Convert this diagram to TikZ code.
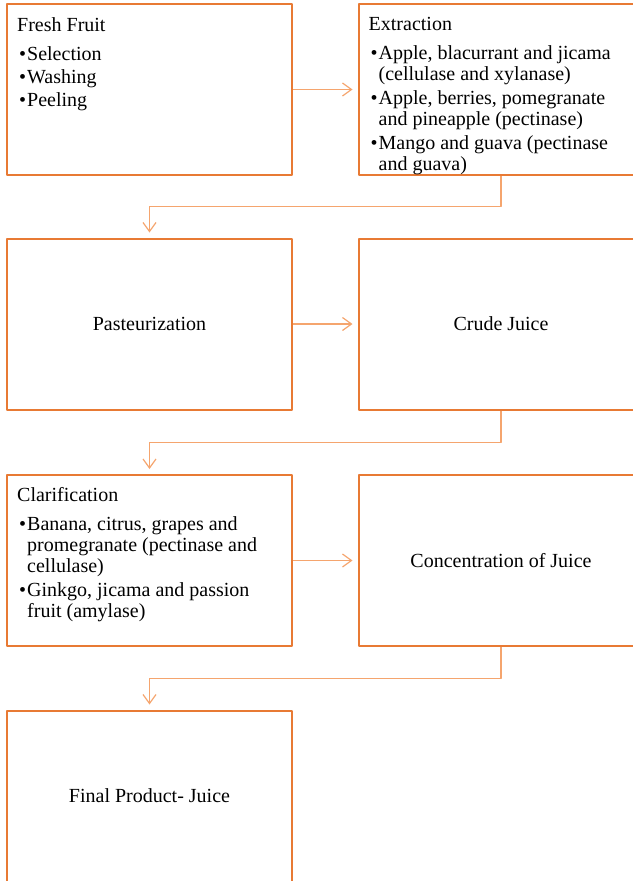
\documentclass[tikz,border=0pt]{standalone}
\usepackage{fontspec}
\setmainfont{Liberation Serif}
\usepackage{tikz}
\usetikzlibrary{arrows.meta,calc}
\definecolor{boxorange}{RGB}{232,122,52}
\definecolor{linkorange}{RGB}{245,165,110}
\newcommand{\bul}{\hspace*{2pt}\makebox[8pt][l]{\textbullet}}
\newcommand{\bind}{\hspace*{10pt}}

\begin{document}
\begin{tikzpicture}[x=1pt,y=-1pt,>={Straight Barb[length=9pt,width=13pt]},line join=round,
  stage/.style={draw=boxorange,line width=2pt,minimum width=285pt,minimum height=171pt,
    inner sep=0pt,font=\fontsize{20}{22}\selectfont},
  list/.style={anchor=north west,align=left,inner sep=0pt,font=\fontsize{20}{21}\selectfont},
  link/.style={draw=linkorange,line width=1.2pt,->,shorten >=5pt}]
  \useasboundingbox (0,0) rectangle (632,881);
  % boxes
  \node[stage] (fresh) at (149.5,89.5) {};
  \node[stage] (extr)  at (501,89.5) {};
  \node[stage] (past)  at (149.5,324) {Pasteurization};
  \node[stage] (crude) at (501,324) {Crude Juice};
  \node[stage] (clar)  at (149.5,560.5) {};
  \node[stage] (conc)  at (501,560.5) {Concentration of Juice};
  \node[stage] (final) at (149.5,796) {Final Product- Juice};
  % box texts
  \node[list] (freshtxt) at ($(fresh.north west)+(11,14)$) {Fresh Fruit\\[8pt]
    \bul Selection\\[2pt]
    \bul Washing\\[2pt]
    \bul Peeling};
  \node[list] (extrtxt) at ($(extr.north west)+(11,14)$) {Extraction\\[8pt]
    \bul Apple, blacurrant and jicama\\
    \bind(cellulase and xylanase)\\[3pt]
    \bul Apple, berries, pomegranate\\
    \bind and pineapple (pectinase)\\[3pt]
    \bul Mango and guava (pectinase\\
    \bind and guava)};
  \node[list] (clartxt) at ($(clar.north west)+(11,13)$) {Clarification\\[8pt]
    \bul Banana, citrus, grapes and\\
    \bind promegranate (pectinase and\\
    \bind cellulase)\\[3pt]
    \bul Ginkgo, jicama and passion\\
    \bind fruit (amylase)};
  % links
  \draw[link] (fresh) -- (extr);
  \draw[link] (past) -- (crude);
  \draw[link] (clar) -- (conc);
  \draw[link] (extr.south) |- ($(extr.south)!.5!(past.north)$) -| (past.north);
  \draw[link] (crude.south) |- ($(crude.south)!.5!(clar.north)$) -| (clar.north);
  \draw[link] (conc.south) |- ($(conc.south)!.5!(final.north)$) -| (final.north);
\end{tikzpicture}
\end{document}
